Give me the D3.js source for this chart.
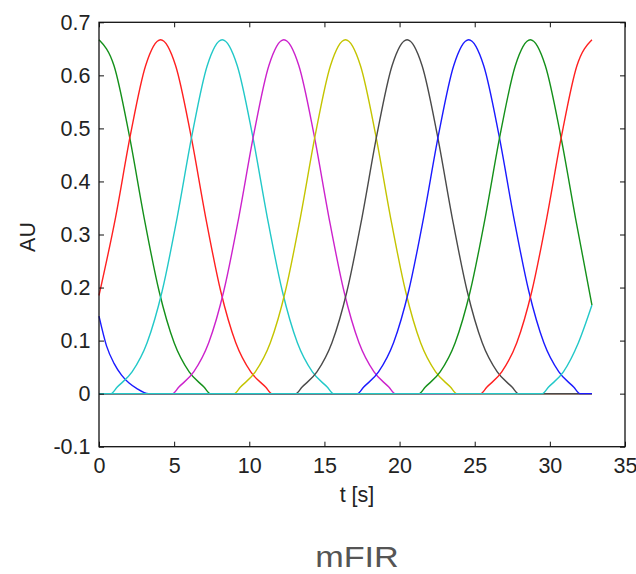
<!DOCTYPE html>
<html>
<head>
<meta charset="utf-8">
<script src="https://cdn.jsdelivr.net/npm/d3@7"></script>
<style>
  body { margin: 0; background: #fff; }
  svg text { font-family: "Liberation Sans", Arial, sans-serif; }
  .axis text { font-size: 21.5px; fill: #222; }
  .axis path, .axis line { stroke: #111; }
</style>
</head>
<body>
<div id="svganchor"></div>
<script>
let width = 636, height = 574;

let margin = ({top: 22.3, right: 11, bottom: 127.3, left: 99});

// tick values
let xTicks = [0, 5, 10, 15, 20, 25, 30, 35];
let yTicks = [-0.1, 0, 0.1, 0.2, 0.3, 0.4, 0.5, 0.6, 0.7];

// basis functions, [t, AU]
let blue1 = [[0, 0.146], [0.5, 0.09], [1, 0.057], [1.5, 0.035], [2, 0.02], [2.5, 0.01], [3.3, 0], [32.8, 0]];
let green1 = [[0, 0.667], [1, 0.618], [2, 0.489], [3, 0.332], [4, 0.193], [5, 0.096], [6, 0.041], [7, 0.012], [7.4, 0], [32.8, 0]];
let red1 = [[0, 0.185], [1.1, 0.332], [2.1, 0.489], [3.1, 0.618], [4.1, 0.667], [5.1, 0.618], [6.1, 0.489], [7.1, 0.332], [8.1, 0.193], [9.1, 0.096], [10.1, 0.041], [11.1, 0.012], [11.5, 0], [32.8, 0]];
let cyan1 = [[0, 0], [0.8, 0], [1.2, 0.012], [2.2, 0.041], [3.2, 0.096], [4.2, 0.193], [5.2, 0.332], [6.2, 0.489], [7.2, 0.618], [8.2, 0.667], [9.2, 0.618], [10.2, 0.489], [11.2, 0.332], [12.2, 0.193], [13.2, 0.096], [14.2, 0.041], [15.2, 0.012], [15.6, 0], [32.8, 0]];
let magenta1 = [[0, 0], [4.9, 0], [5.3, 0.012], [6.3, 0.041], [7.3, 0.096], [8.3, 0.193], [9.3, 0.332], [10.3, 0.489], [11.3, 0.618], [12.3, 0.667], [13.3, 0.618], [14.3, 0.489], [15.3, 0.332], [16.3, 0.193], [17.3, 0.096], [18.3, 0.041], [19.3, 0.012], [19.7, 0], [32.8, 0]];
let yellow1 = [[0, 0], [9.0, 0], [9.4, 0.012], [10.4, 0.041], [11.4, 0.096], [12.4, 0.193], [13.4, 0.332], [14.4, 0.489], [15.4, 0.618], [16.4, 0.667], [17.4, 0.618], [18.4, 0.489], [19.4, 0.332], [20.4, 0.193], [21.4, 0.096], [22.4, 0.041], [23.4, 0.012], [23.8, 0], [32.8, 0]];
let gray1 = [[0, 0], [13.1, 0], [13.5, 0.012], [14.5, 0.041], [15.5, 0.096], [16.5, 0.193], [17.5, 0.332], [18.5, 0.489], [19.5, 0.618], [20.5, 0.667], [21.5, 0.618], [22.5, 0.489], [23.5, 0.332], [24.5, 0.193], [25.5, 0.096], [26.5, 0.041], [27.5, 0.012], [27.9, 0], [32.8, 0]];
let blue2 = [[0, 0], [17.2, 0], [17.6, 0.012], [18.6, 0.041], [19.6, 0.096], [20.6, 0.193], [21.6, 0.332], [22.6, 0.489], [23.6, 0.618], [24.6, 0.667], [25.6, 0.618], [26.6, 0.489], [27.6, 0.332], [28.6, 0.193], [29.6, 0.096], [30.6, 0.041], [31.6, 0.012], [32.0, 0], [32.8, 0]];
let green2 = [[0, 0], [21.3, 0], [21.7, 0.012], [22.7, 0.041], [23.7, 0.096], [24.7, 0.193], [25.7, 0.332], [26.7, 0.489], [27.7, 0.618], [28.7, 0.667], [29.7, 0.618], [30.7, 0.489], [31.7, 0.332], [32.8, 0.167]];
let red2 = [[0, 0], [25.4, 0], [25.8, 0.012], [26.8, 0.041], [27.8, 0.096], [28.8, 0.193], [29.8, 0.332], [30.8, 0.489], [31.8, 0.618], [32.8, 0.667]];
let cyan2 = [[0, 0], [29.5, 0], [29.9, 0.012], [30.9, 0.041], [31.9, 0.096], [32.8, 0.167]];

let series = [blue1, green1, red1, cyan1, magenta1, yellow1, gray1, blue2, green2, red2, cyan2];
let colors = ["#1a1aff", "#14901a", "#ff2020", "#22c8c8", "#cc22cc", "#c4c400", "#4a4a4a",
              "#1a1aff", "#14901a", "#ff2020", "#22c8c8"];

let xScale = d3.scaleLinear()
    .domain([0, 35])
    .range([margin.left, width - margin.right]);

let yScale = d3.scaleLinear()
    .domain([-0.1, 0.7])
    .range([height - margin.bottom, margin.top]);

let svg = d3.select("#svganchor")
    .append("svg")
    .attr("width", width)
    .attr("height", height);

let line = d3.line()
    .x(function(d) { return xScale(d[0]); })
    .y(function(d) { return yScale(d[1]); })
    .curve(d3.curveMonotoneX);

svg.selectAll(".basis")
    .data(series)
    .enter()
    .append("path")
    .attr("class", "basis")
    .attr("d", line)
    .attr("fill", "none")
    .attr("stroke", function(d, i) { return colors[i]; })
    .attr("stroke-width", 1.4);

let xAxis = d3.axisBottom(xScale)
    .tickValues(xTicks)
    .tickFormat(d3.format("d"))
    .tickSizeInner(-5)
    .tickSizeOuter(0)
    .tickPadding(11);

// matlab style labels, plain hyphen for the minus
let yAxis = d3.axisLeft(yScale)
    .tickValues(yTicks)
    .tickFormat(function(d) { return d === 0 ? "0" : d.toFixed(1); })
    .tickSizeInner(-5)
    .tickSizeOuter(0)
    .tickPadding(8.5);

svg.append("g")
    .attr("class", "x axis")
    .attr("transform", "translate(0," + (height - margin.bottom) + ")")
    .call(xAxis);

svg.append("g")
    .attr("class", "y axis")
    .attr("transform", "translate(" + margin.left + ",0)")
    .call(yAxis);

svg.append("g")
    .attr("class", "axis")
    .attr("transform", "translate(0," + margin.top + ")")
    .call(d3.axisTop(xScale).tickValues(xTicks).tickSizeInner(-5).tickSizeOuter(0).tickFormat(""));

svg.append("g")
    .attr("class", "axis")
    .attr("transform", "translate(" + (width - margin.right) + ",0)")
    .call(d3.axisRight(yScale).tickValues(yTicks).tickSizeInner(-5).tickSizeOuter(0).tickFormat(""));

svg.selectAll(".axis .domain").remove();

svg.append("rect")
    .attr("x", margin.left)
    .attr("y", margin.top)
    .attr("width", width - margin.right - margin.left)
    .attr("height", height - margin.bottom - margin.top)
    .attr("fill", "none")
    .attr("stroke", "#111")
    .attr("stroke-width", 1.3);

svg.append("text")
    .attr("text-anchor", "middle")
    .attr("transform", "translate(35,237) rotate(-90)")
    .style("font-size", "21.5px")
    .style("fill", "#222")
    .text("AU");

svg.append("text")
    .attr("text-anchor", "middle")
    .attr("x", 357)
    .attr("y", 502)
    .style("font-size", "21.5px")
    .style("fill", "#222")
    .text("t [s]");

// caption under the figure, a bit wider than the font draws it
svg.append("text")
    .attr("text-anchor", "middle")
    .attr("transform", "translate(357,567) scale(1.18,1)")
    .style("font-size", "29px")
    .style("fill", "#555")
    .text("mFIR");
</script>
</body>
</html>
